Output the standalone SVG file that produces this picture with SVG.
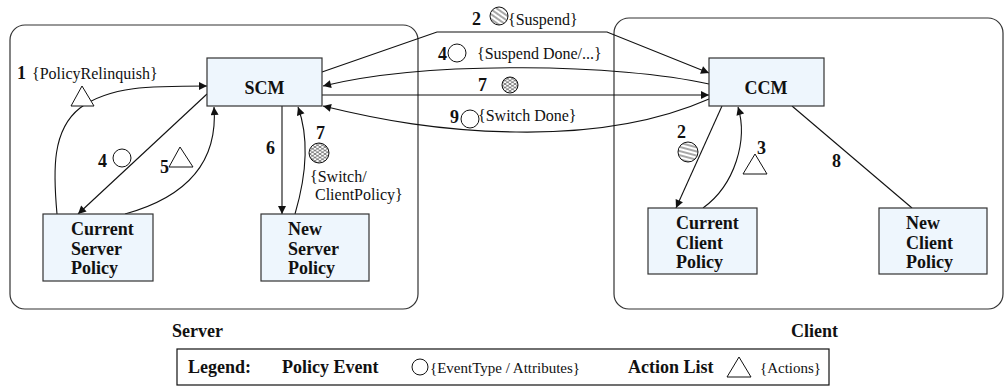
<svg xmlns="http://www.w3.org/2000/svg" width="1005" height="389" viewBox="0 0 1005 389" font-family="'Liberation Serif', 'DejaVu Serif', serif">
  <style>
    .container { fill: none; stroke: #333; stroke-width: 1.2; }
    .node rect { fill: #eef6fd; stroke: #333; stroke-width: 1.2; }
    text { fill: #111; }
    .nlabel { font-weight: bold; font-size: 18px; }
    .num { font-weight: bold; font-size: 18px; }
    .lbl { font-size: 16px; }
    .edge { fill: none; stroke: #111; stroke-width: 1.1; }
    .sym { fill: #fff; stroke: #111; stroke-width: 1; }
    .leg { font-size: 15px; }
    .legb { font-weight: bold; font-size: 18px; }
  </style>
  <defs>
    <marker id="arrow" viewBox="0 0 10 10" refX="10" refY="5" markerWidth="11" markerHeight="8" markerUnits="userSpaceOnUse" orient="auto">
      <path d="M0,0 L10,5 L0,10 z" fill="#111"/>
    </marker>
    <!-- single-direction hatching -->
    <pattern id="hatchDiag" width="4" height="4" patternUnits="userSpaceOnUse" patternTransform="rotate(35)">
      <line x1="0" y1="2" x2="4" y2="2" stroke="#222" stroke-width="0.8"/>
    </pattern>
    <pattern id="hatchFlat" width="4" height="4" patternUnits="userSpaceOnUse" patternTransform="rotate(15)">
      <line x1="0" y1="2" x2="4" y2="2" stroke="#222" stroke-width="0.8"/>
    </pattern>
    <!-- mesh hatching -->
    <pattern id="mesh" width="5" height="3.5" patternUnits="userSpaceOnUse">
      <path d="M0,0 L5,3.5 M0,3.5 L5,0" stroke="#222" stroke-width="0.6" fill="none"/>
    </pattern>
  </defs>

  <!-- containers -->
  <g id="server">
    <rect class="container" x="10" y="25" width="408" height="284" rx="15" ry="15"/>
    <text class="nlabel" x="172" y="337" font-family="Liberation Serif">Server</text>
  </g>
  <g id="client">
    <rect class="container" x="614" y="18" width="389" height="291" rx="15" ry="15"/>
    <text class="nlabel" x="791" y="337" font-family="Liberation Serif">Client</text>
  </g>

  <!-- connectors -->
  <g id="connectors" font-family="Liberation Serif, serif">
    <path class="edge" d="M57,214 C53,170 52,130 80,108 C110,86 150,86 207,86" marker-end="url(#arrow)"/>
    <path class="edge" d="M207,94 L78,214" marker-end="url(#arrow)"/>
    <path class="edge" d="M125,214 C190,196 218,160 214,107" marker-end="url(#arrow)"/>
    <path class="edge" d="M282,106 L282,214" marker-end="url(#arrow)"/>
    <path class="edge" d="M295,214 C305,180 310,140 298,107" marker-end="url(#arrow)"/>
    <path class="edge" d="M322,72 L437,32 L607,32 L709,73" marker-end="url(#arrow)"/>
    <path class="edge" d="M709,84 C620,64 430,60 323,86" marker-end="url(#arrow)"/>
    <path class="edge" d="M322,95 L709,95" marker-end="url(#arrow)"/>
    <path class="edge" d="M709,99 C650,125 580,133 516,132 C440,131 380,120 323,106" marker-end="url(#arrow)"/>
    <path class="edge" d="M722,106 L676,208" marker-end="url(#arrow)"/>
    <path class="edge" d="M703,208 C735,185 748,140 738,107" marker-end="url(#arrow)"/>
    <path class="edge" d="M792,106 L912,208"/>

    <!-- edge labels -->
    <text class="num" x="17" y="79">1</text>
    <text class="lbl" x="32" y="79">{PolicyRelinquish}</text>
    <polygon class="sym" points="82,86 71,106 94,106"/>

    <text class="num" x="98" y="167">4</text>
    <circle class="sym" cx="122" cy="158" r="9"/>

    <text class="num" x="160" y="173">5</text>
    <polygon class="sym" points="180,147 169,167 193,167"/>

    <text class="num" x="266" y="154">6</text>

    <text class="num" x="316" y="139">7</text>
    <circle cx="319" cy="153" r="10" fill="url(#mesh)" stroke="#111" stroke-width="1"/>
    <text class="lbl" x="310" y="182">{Switch/</text>
    <text class="lbl" x="315" y="200">ClientPolicy}</text>

    <text class="num" x="472" y="25">2</text>
    <circle cx="499" cy="16" r="9" fill="url(#hatchDiag)" stroke="#111" stroke-width="1"/>
    <text class="lbl" x="508" y="25">{Suspend}</text>

    <text class="num" x="438" y="60">4</text>
    <circle class="sym" cx="457" cy="53" r="9"/>
    <text class="lbl" x="477" y="59">{Suspend Done/...}</text>

    <text class="num" x="478" y="91">7</text>
    <circle cx="510" cy="85" r="8" fill="url(#mesh)" stroke="#111" stroke-width="1"/>

    <text class="num" x="450" y="123">9</text>
    <circle class="sym" cx="470" cy="119" r="9"/>
    <text class="lbl" x="478" y="121">{Switch Done}</text>

    <text class="num" x="677" y="138">2</text>
    <circle cx="688" cy="152" r="10" fill="url(#hatchFlat)" stroke="#111" stroke-width="1"/>

    <text class="num" x="757" y="154">3</text>
    <polygon class="sym" points="755,154 743,174 767,174"/>

    <text class="num" x="832" y="167">8</text>
  </g>

  <!-- nodes -->
  <g id="scm" class="node">
    <rect x="207" y="58" width="115" height="48"/>
    <text class="nlabel" x="264.5" y="94" text-anchor="middle">SCM</text>
  </g>
  <g id="ccm" class="node">
    <rect x="709" y="58" width="115" height="48"/>
    <text class="nlabel" x="766" y="94" text-anchor="middle">CCM</text>
  </g>
  <g id="current-server-policy" class="node">
    <rect x="43" y="214" width="110" height="67"/>
    <text class="nlabel" x="71" y="235">Current</text>
    <text class="nlabel" x="71" y="255">Server</text>
    <text class="nlabel" x="71" y="274">Policy</text>
  </g>
  <g id="new-server-policy" class="node">
    <rect x="261" y="214" width="108" height="67"/>
    <text class="nlabel" x="288" y="235">New</text>
    <text class="nlabel" x="288" y="255">Server</text>
    <text class="nlabel" x="288" y="274">Policy</text>
  </g>
  <g id="current-client-policy" class="node">
    <rect x="648" y="208" width="109" height="66"/>
    <text class="nlabel" x="676" y="229">Current</text>
    <text class="nlabel" x="676" y="249">Client</text>
    <text class="nlabel" x="676" y="268">Policy</text>
  </g>
  <g id="new-client-policy" class="node">
    <rect x="879" y="208" width="108" height="66"/>
    <text class="nlabel" x="906" y="229">New</text>
    <text class="nlabel" x="906" y="249">Client</text>
    <text class="nlabel" x="906" y="268">Policy</text>
  </g>

  <!-- legend -->
  <g id="legend">
    <rect x="177" y="349" width="652" height="36" fill="#fff" stroke="#111" stroke-width="1.2"/>
    <text class="legb" x="188" y="373">Legend:</text>
    <text class="legb" x="282" y="373">Policy Event</text>
    <circle class="sym" cx="420" cy="367" r="8"/>
    <text class="leg" x="430" y="373">{EventType / Attributes}</text>
    <text class="legb" x="628" y="373">Action List</text>
    <polygon class="sym" points="739,357 727,377 751,377"/>
    <text class="leg" x="760" y="373">{Actions}</text>
  </g>
</svg>
